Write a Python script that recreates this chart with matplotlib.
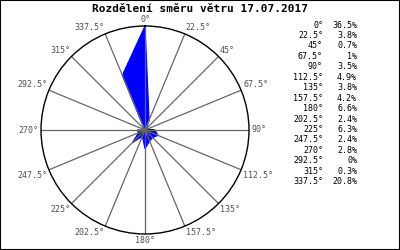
import numpy as np
import matplotlib
matplotlib.use('Agg')
import matplotlib.pyplot as plt

# wind direction share (%) per 22.5 deg sector
directions = [0, 22.5, 45, 67.5, 90, 112.5, 135, 157.5, 180, 202.5, 225, 247.5, 270, 292.5, 315, 337.5]
shares = [36.5, 3.8, 0.7, 1, 3.5, 4.9, 3.8, 4.2, 6.6, 2.4, 6.3, 2.4, 2.8, 0, 0.3, 20.8]
TITLE = 'Rozdělení směru větru 17.07.2017'

plt.rcParams['font.family'] = ['DejaVu Sans Mono']

fig = plt.figure(figsize=(4, 2.5), dpi=100)
ax = fig.add_axes([41/400, 16/250, 208/400, 208/250], projection='polar')
ax.set_theta_zero_location('N')
ax.set_theta_direction(-1)
rmax = max(shares)
ax.set_ylim(0, rmax)

theta = np.deg2rad(directions)
ax.fill(np.append(theta, theta[0]), shares + [shares[0]], color='#0000ff', lw=0.8)

# spokes + direction labels
for d in directions:
    ax.plot([np.deg2rad(d)] * 2, [0, rmax], color='#666666', lw=0.9, zorder=1)
    s, c = np.sin(np.deg2rad(d)), np.cos(np.deg2rad(d))
    ha = 'left' if s > 0.1 else ('right' if s < -0.1 else 'center')
    va = 'bottom' if c > 0.1 else ('top' if c < -0.1 else 'center')
    ax.text(np.deg2rad(d), rmax * 1.02, '%g°' % d, ha=ha, va=va,
            fontsize=6, color='#505050')

ax.grid(False)
ax.set_xticks([])
ax.set_yticks([])
ax.spines['polar'].set_color('black')
ax.spines['polar'].set_linewidth(1.0)

fig.text(0.5, 1 - 9/250, TITLE, ha='center', va='center', fontsize=8, fontweight='bold')

# side table
y0 = 1 - 25/250
step = 10.45/250
for i, (d, v) in enumerate(zip(directions, shares)):
    y = y0 - i * step
    fig.text(323/400, y, '%g°' % d, ha='right', va='center', fontsize=6)
    fig.text(357/400, y, '%g%%' % v, ha='right', va='center', fontsize=6)

fig.add_artist(plt.Rectangle((0, 0), 1, 1, transform=fig.transFigure,
                             fill=False, lw=1.5, edgecolor='black'))
fig.savefig('out.png', dpi=100)
